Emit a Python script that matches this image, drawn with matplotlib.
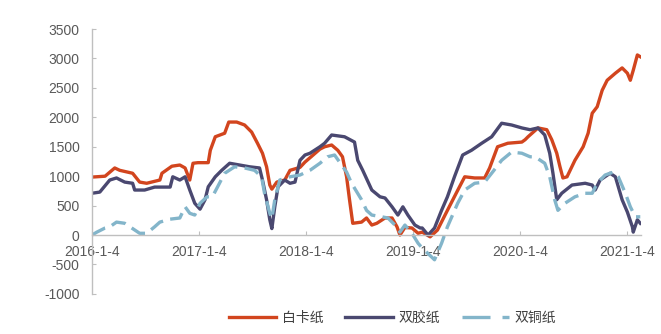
import matplotlib
matplotlib.use("Agg")
import matplotlib.pyplot as plt
from matplotlib.lines import Line2D
import pandas as pd

plt.rcParams['font.family'] = ['Liberation Sans', 'Noto Sans CJK SC', 'DejaVu Sans']

# 白卡纸
red_dates = ['2016-01-04', '2016-02-18', '2016-03-22', '2016-04-08', '2016-05-22', '2016-06-15',
             '2016-07-09', '2016-08-23', '2016-08-30', '2016-10-03', '2016-10-30', '2016-11-17',
             '2016-12-03', '2016-12-14', '2016-12-31', '2017-02-04', '2017-02-11', '2017-02-28',
             '2017-04-01', '2017-04-15', '2017-05-12', '2017-06-08', '2017-07-02', '2017-07-22',
             '2017-08-08', '2017-08-22', '2017-09-02', '2017-09-09', '2017-09-26', '2017-10-23',
             '2017-11-10', '2017-12-14', '2017-12-31', '2018-02-20', '2018-03-08', '2018-04-01',
             '2018-04-22', '2018-05-08', '2018-05-22', '2018-06-01', '2018-06-12', '2018-07-12',
             '2018-07-29', '2018-08-16', '2018-09-02', '2018-09-30', '2018-10-24', '2018-11-10',
             '2018-11-20', '2018-12-07', '2018-12-31', '2019-01-21', '2019-02-04', '2019-03-03',
             '2019-03-28', '2019-05-01', '2019-06-05', '2019-06-29', '2019-08-02', '2019-09-05',
             '2019-09-22', '2019-10-19', '2019-11-23', '2020-01-10', '2020-01-31', '2020-01-21',
             '2020-03-05', '2020-04-04', '2020-04-21', '2020-05-08', '2020-05-19', '2020-05-29',
             '2020-06-12', '2020-07-09', '2020-08-06', '2020-08-23', '2020-09-06', '2020-09-23',
             '2020-10-10', '2020-10-27', '2020-11-24', '2020-12-17', '2021-01-04', '2021-01-14',
             '2021-01-24', '2021-02-07', '2021-02-17']
red_vals = [985, 1000, 1140, 1100, 1050, 900,
            880, 935, 1050, 1170, 1190, 1140,
            935, 1220, 1230, 1230, 1440, 1670,
            1730, 1920, 1920, 1870, 1750, 1560,
            1390, 1160, 850, 780, 900, 935,
            1100, 1150, 1240, 1460, 1500, 1530,
            1440, 1330, 990, 600, 200, 220,
            290, 170, 200, 290, 290, 140,
            0, 130, 120, 30, 50, -30,
            85, 420, 760, 990, 970, 970,
            1140, 1500, 1560, 1580, 1670, 1620,
            1820, 1790, 1620, 1390, 1160, 970,
            990, 1270, 1500, 1730, 2070, 2180,
            2460, 2630, 2750, 2840, 2750, 2630,
            2800, 3060, 3030]

# 双胶纸
navy_dates = ['2016-01-04', '2016-01-31', '2016-03-05', '2016-03-28', '2016-04-25', '2016-05-22',
              '2016-05-29', '2016-07-02', '2016-08-05', '2016-09-27', '2016-10-06', '2016-10-30',
              '2016-11-17', '2016-12-03', '2016-12-20', '2017-01-07', '2017-01-24', '2017-02-04',
              '2017-02-28', '2017-03-22', '2017-04-18', '2017-05-22', '2017-06-25', '2017-07-29',
              '2017-08-08', '2017-08-22', '2017-09-02', '2017-09-09', '2017-09-19', '2017-09-30',
              '2017-10-23', '2017-11-10', '2017-11-27', '2017-12-14', '2017-12-31', '2018-01-17',
              '2018-02-20', '2018-03-08', '2018-04-01', '2018-05-15', '2018-06-18', '2018-06-29',
              '2018-07-16', '2018-08-16', '2018-09-13', '2018-09-30', '2018-10-24', '2018-11-13',
              '2018-11-30', '2018-12-17', '2019-01-10', '2019-01-28', '2019-02-04', '2019-02-24',
              '2019-03-18', '2019-04-11', '2019-05-01', '2019-05-25', '2019-06-22', '2019-07-22',
              '2019-08-26', '2019-09-29', '2019-11-02', '2019-12-06', '2020-01-10', '2020-02-07',
              '2020-03-05', '2020-03-28', '2020-04-14', '2020-04-25', '2020-05-08', '2020-05-25',
              '2020-06-29', '2020-08-13', '2020-09-06', '2020-09-16', '2020-10-03', '2020-11-06',
              '2020-11-24', '2020-12-17', '2021-01-04', '2021-01-21', '2021-01-24', '2021-02-07',
              '2021-02-17']
navy_vals = [710, 730, 935, 970, 900, 880,
             765, 765, 815, 815, 990, 935,
             990, 765, 540, 440, 600, 820,
             990, 1100, 1220, 1190, 1160, 1140,
             935, 600, 260, 110, 480, 820,
             935, 880, 900, 1270, 1360, 1390,
             1500, 1560, 1700, 1670, 1580, 1270,
             1100, 765, 650, 630, 480, 340,
             480, 340, 170, 120, 120, 0,
             120, 420, 650, 990, 1360, 1440,
             1560, 1670, 1900, 1870, 1820, 1790,
             1820, 1700, 1390, 1050, 600, 710,
             850, 880, 850, 765, 935, 1050,
             990, 600, 390, 140, 50, 260,
             200]

# 双铜纸
blue_dates = ['2016-01-04', '2016-01-21', '2016-02-18', '2016-03-05', '2016-03-28', '2016-04-25',
              '2016-05-19', '2016-06-15', '2016-07-09', '2016-08-05', '2016-08-23', '2016-09-27',
              '2016-10-30', '2016-11-17', '2016-12-03', '2016-12-20', '2017-01-07', '2017-01-31',
              '2017-02-18', '2017-03-08', '2017-04-01', '2017-05-05', '2017-06-08', '2017-07-12',
              '2017-08-05', '2017-08-15', '2017-09-02', '2017-09-09', '2017-09-19', '2017-10-06',
              '2017-11-10', '2017-12-14', '2018-01-17', '2018-02-20', '2018-03-18', '2018-04-11',
              '2018-05-05', '2018-05-22', '2018-06-08', '2018-07-12', '2018-07-29', '2018-08-16',
              '2018-09-19', '2018-10-10', '2018-11-03', '2018-11-20', '2018-12-07', '2018-12-31',
              '2019-01-21', '2019-02-04', '2019-03-18', '2019-04-11', '2019-05-01', '2019-06-05',
              '2019-06-29', '2019-08-02', '2019-09-05', '2019-10-02', '2019-11-02', '2019-12-06',
              '2020-01-10', '2020-02-07', '2020-02-24', '2020-03-28', '2020-04-14', '2020-05-01',
              '2020-05-12', '2020-06-05', '2020-07-09', '2020-08-13', '2020-09-06', '2020-09-23',
              '2020-10-20', '2020-11-17', '2020-12-04', '2020-12-28', '2021-01-14', '2021-01-31',
              '2021-02-17']
blue_vals = [0, 50, 120, 140, 220, 200,
             120, 30, 30, 140, 220, 270,
             290, 480, 370, 340, 540, 650,
             650, 820, 1050, 1160, 1140, 1100,
             990, 710, 370, 280, 600, 935,
             990, 1020, 1100, 1220, 1330, 1360,
             1190, 1070, 880, 600, 420, 340,
             310, 290, 170, 50, 170, 30,
             -140, -220, -420, -140, 140, 540,
             765, 880, 900, 1070, 1270, 1410,
             1390, 1330, 1330, 1220, 990, 600,
             420, 540, 650, 710, 710, 880,
             1020, 1070, 990, 710, 480, 310,
             310]

labels = ['白卡纸', '双胶纸', '双铜纸']
colors = ['#D2451E', '#4A4870', '#83B5CA']
xtick_dates = ['2016-01-04', '2017-01-04', '2018-01-04', '2019-01-04', '2020-01-04', '2021-01-04']
xtick_labels = ['2016-1-4', '2017-1-4', '2018-1-4', '2019-1-4', '2020-1-4', '2021-1-4']
yticks = [-1000, -500, 0, 500, 1000, 1500, 2000, 2500, 3000, 3500]

fig = plt.figure(figsize=(6.61, 3.34), dpi=100)
ax = fig.add_axes([0.139, 0.120, 0.831, 0.793])

LW = 2.4
series = [(red_dates, red_vals), (navy_dates, navy_vals), (blue_dates, blue_vals)]
for i, (d, v) in enumerate(series):
    d = pd.to_datetime(d)
    order = d.argsort()
    dd = d[order]
    vv = [v[j] for j in order]
    kw = dict(color=colors[i], lw=LW, label=labels[i], solid_joinstyle='round')
    if i == 2:
        kw['dashes'] = (4.5, 2.2)
    ax.plot(dd, vv, **kw)

ax.set_ylim(-1000, 3500)
ax.set_xlim(pd.Timestamp('2016-01-04'), pd.Timestamp('2021-02-20'))
ax.set_yticks(yticks)
ax.set_yticklabels([str(t) for t in yticks])
ax.set_xticks(pd.to_datetime(xtick_dates))
ax.set_xticklabels(xtick_labels)

for s in ['top', 'right']:
    ax.spines[s].set_visible(False)
ax.spines['bottom'].set_position(('data', 0))
ax.spines['left'].set_color('#BFBFBF')
ax.spines['bottom'].set_color('#BFBFBF')
ax.spines['left'].set_linewidth(1)
ax.spines['bottom'].set_linewidth(1)
ax.tick_params(axis='y', direction='in', length=3, color='#BFBFBF', pad=9,
               labelsize=10, labelcolor='#595959')
ax.tick_params(axis='x', direction='in', length=3, color='#BFBFBF', pad=7,
               labelsize=10, labelcolor='#595959')

handles = [Line2D([], [], color=colors[0], lw=LW),
           Line2D([], [], color=colors[1], lw=LW),
           Line2D([], [], color=colors[2], lw=LW, dashes=(8.4, 3.6))]
fig.legend(handles, labels, loc='center', bbox_to_anchor=(0.594, 0.048), ncol=3, frameon=False,
           handlelength=3.4, handletextpad=0.4, columnspacing=1.6,
           prop={'family': ['Noto Sans CJK SC'], 'size': 10}, labelcolor='#404040')

fig.savefig('out.png', dpi=100)
